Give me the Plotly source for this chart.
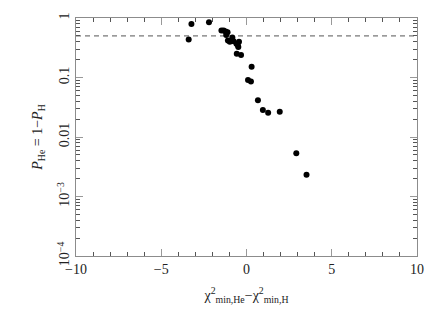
import plotly.graph_objects as go

# delta chi^2 (He - H) and P_He for each object
delta_chi2 = [-3.39, -3.23, -2.20, -1.47, -1.34, -1.22, -1.11, -1.19, -0.83, -1.09,
              -0.98, -0.76, -0.44, -0.59, -0.51, -0.48, -0.57, -0.32, 0.30, 0.09,
              0.26, 0.67, 0.96, 1.27, 1.95, 2.92, 3.52]
p_he = [0.436, 0.795, 0.848, 0.615, 0.615, 0.592, 0.574, 0.516, 0.471, 0.420,
        0.400, 0.407, 0.400, 0.370, 0.347, 0.327, 0.250, 0.240, 0.152, 0.091,
        0.0857, 0.0414, 0.0283, 0.0255, 0.0265, 0.00532, 0.00232]

threshold_x = [-10, 10]
threshold_y = [0.5, 0.5]

y_alias = {'100μ': '10<sup>−4</sup>', '0.001': '10<sup>−3</sup>'}

font = 'Liberation Serif, DejaVu Serif, serif'

fig = go.Figure()
fig.add_trace(go.Scatter(
    x=threshold_x, y=threshold_y, mode='lines',
    line=dict(color='#555555', width=1, dash='5px,4px'),
    hoverinfo='skip'
))
fig.add_trace(go.Scatter(
    x=delta_chi2, y=p_he, mode='markers',
    marker=dict(color='black', size=6)
))

fig.update_layout(
    width=436, height=332,
    margin=dict(l=76, r=16, t=15, b=76),
    paper_bgcolor='white', plot_bgcolor='white',
    showlegend=False,
    font=dict(family=font, color='#222222'),
    xaxis=dict(
        showline=True, linecolor='#8c8c8c', mirror='ticks',
        ticks='inside', ticklen=7, tickcolor='#999999',
        range=[-10, 10], dtick=5,
        minor=dict(dtick=1, ticks='inside', ticklen=4, tickcolor='#555555'),
        tickfont=dict(family=font, size=14, color='#222222'),
        title=dict(text='χ<sup>2</sup><sub>min,He</sub>−χ<sup>2</sup><sub>min,H</sub>',
                   font=dict(family=font, size=14), standoff=14),
    ),
    yaxis=dict(
        showline=True, linecolor='#8c8c8c', mirror='ticks',
        ticks='inside', ticklen=7, tickcolor='#999999',
        type='log', range=[-4, 0], dtick=1, labelalias=y_alias, tickangle=-90,
        minor=dict(ticks='inside', ticklen=4, tickcolor='#555555'),
        tickfont=dict(family=font, size=14, color='#222222'),
        title=dict(text='<i>P</i><sub>He</sub> = 1−<i>P</i><sub>H</sub>',
                   font=dict(family=font, size=14), standoff=8),
    ),
)

fig.write_html("out.html", config={'displayModeBar': False},
               post_script="document.body.style.margin='0';")
